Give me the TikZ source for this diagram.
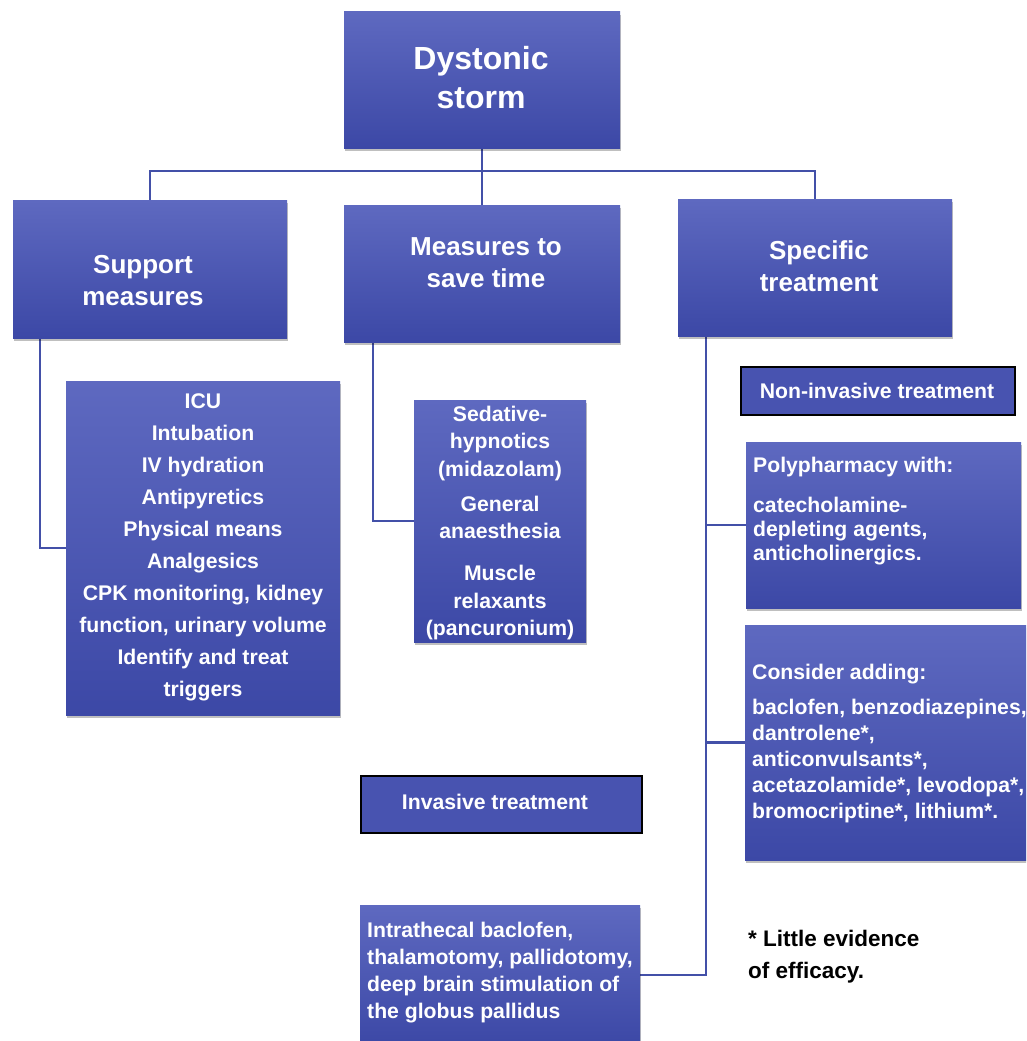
\documentclass[tikz,border=0pt]{standalone}
\usepackage{fontspec}
\setmainfont{Liberation Sans}
\usetikzlibrary{shadows,backgrounds}
\definecolor{boxtop}{HTML}{5E69C0}
\definecolor{boxbot}{HTML}{3C48A6}
\definecolor{flatbox}{HTML}{4853B0}
\definecolor{lineblue}{HTML}{4350A8}
\tikzset{
  gbox/.style={rectangle, inner sep=0pt, top color=boxtop, bottom color=boxbot, draw=none,
    drop shadow={shadow xshift=0.5pt, shadow yshift=-3pt, opacity=0.25, fill=black}},
  fbox/.style={rectangle, inner sep=0pt, fill=flatbox, draw=black, line width=1.2pt},
  conn/.style={draw=lineblue, line width=2.6pt},
  lbl/.style={text=white, inner sep=0pt, font=\bfseries},
  bigl/.style={lbl, align=center, font=\fontsize{32}{39}\selectfont\bfseries},
  midl/.style={lbl, align=center, font=\fontsize{26}{32}\selectfont\bfseries},
  smc/.style={lbl, align=center, font=\fontsize{21.2}{32}\selectfont\bfseries},
  sml/.style={lbl, align=left, font=\fontsize{21.2}{26}\selectfont\bfseries},
}
\begin{document}
\begin{tikzpicture}[x=1pt,y=-1pt]
\useasboundingbox (0,0) rectangle (1026,1041);
\clip (0,0) rectangle (1026,1041);
% boxes
\node[gbox, minimum width=276pt, minimum height=136pt] (top) at (482,80) {};
\node[bigl] (topt) at (481,78) {Dystonic\\storm};
\node[gbox, minimum width=274pt, minimum height=138pt] (sup) at (150,269) {};
\node[midl] (supt) at (143,281) {Support\\measures};
\node[gbox, minimum width=276pt, minimum height=137pt] (save) at (482,273.5) {};
\node[midl] (savet) at (486,263) {Measures to\\save time};
\node[gbox, minimum width=274pt, minimum height=137pt] (spec) at (815,267.5) {};
\node[midl] (spect) at (819,266.5) {Specific\\treatment};
\node[gbox, minimum width=274pt, minimum height=334pt] (icu) at (203,548) {};
\node[smc] (icut) at (203,547) {ICU\\Intubation\\IV hydration\\Antipyretics\\Physical means\\Analgesics\\CPK monitoring, kidney\\function, urinary volume\\Identify and treat\\triggers};
\node[gbox, minimum width=172pt, minimum height=242pt] (sed) at (500,521) {};
\node[lbl, align=center, font=\fontsize{21.2}{27.7}\selectfont\bfseries] (sedt) at (500,523)
  {Sedative-\\hypnotics\\(midazolam)\\[7pt]General\\anaesthesia\\[14pt]Muscle\\relaxants\\(pancuronium)};
\node[fbox, minimum width=274pt, minimum height=48pt] (noninv) at (878,391) {};
\node[lbl, font=\fontsize{21.2}{26}\selectfont\bfseries] (noninvt) at (877,391) {Non-invasive treatment};
\node[gbox, minimum width=275pt, minimum height=166pt] (poly) at (883.5,525) {};
\node[lbl, align=left, font=\fontsize{21.2}{24}\selectfont\bfseries, anchor=west] (polyt) at (753,511)
  {Polypharmacy with:\\[16pt]catecholamine-\\depleting agents,\\anticholinergics.};
\node[gbox, minimum width=285pt, minimum height=235pt] (cons) at (887.5,742.5) {};
\node[sml, anchor=west] (const) at (752,744)
  {Consider adding:\\[9pt]baclofen, benzodiazepines,\\dantrolene*,\\anticonvulsants*,\\acetazolamide*, levodopa*,\\bromocriptine*, lithium*.};
\node[fbox, minimum width=281pt, minimum height=57pt] (inv) at (501.5,804.5) {};
\node[lbl, font=\fontsize{21.2}{26}\selectfont\bfseries] (invt) at (495,802) {Invasive treatment};
\node[gbox, minimum width=280pt, minimum height=140pt] (intra) at (500,975) {};
\node[lbl, align=left, font=\fontsize{21.2}{27}\selectfont\bfseries, anchor=west] (intrat) at (367,973)
  {Intrathecal baclofen,\\thalamotomy, pallidotomy,\\deep brain stimulation of\\the globus pallidus};
\node[inner sep=0pt, align=left, anchor=west, font=\fontsize{22.5}{32}\selectfont\bfseries] (note) at (748,957)
  {* Little evidence\\of efficacy.};
% connectors
\begin{scope}[on background layer]
\fill[white] (0,0) rectangle (1026,1041);
\coordinate (bar) at (482,171);
\draw[conn] (top.south) -- (save.north);
\draw[conn] (sup.north) |- (bar) -| (spec.north);
\draw[conn] ([xshift=27pt]sup.south west) |- (icu.west);
\draw[conn] ([xshift=29pt]save.south west) |- (sed.west);
\coordinate (tk) at ([xshift=28pt]spec.south west);
\draw[conn] (tk) |- (intra.east);
\draw[conn] (poly.west) -- (poly.west -| tk);
\draw[conn] (cons.west) -- (cons.west -| tk);
\end{scope}
\end{tikzpicture}
\end{document}
